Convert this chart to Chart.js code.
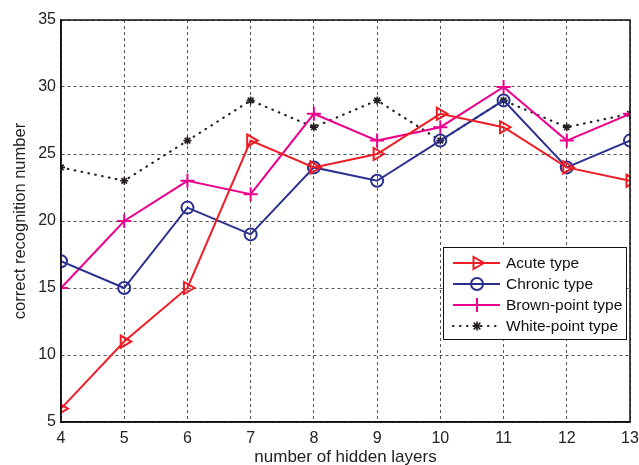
<!DOCTYPE html>
<html>
<head>
<meta charset="utf-8">
<script src="https://cdn.jsdelivr.net/npm/chart.js@4.4.0/dist/chart.umd.min.js"></script>
<style>
  html, body { margin: 0; padding: 0; background: #fff; }
  #wrap { width: 639px; height: 465px; }
</style>
</head>
<body>
<div id="wrap"><canvas id="chart" width="639" height="465"></canvas></div>
<script>
// hidden layer counts on the x axis
const hiddenLayers = [4, 5, 6, 7, 8, 9, 10, 11, 12, 13];

// correct recognition number per type
const acuteType = [6, 11, 15, 26, 24, 25, 28, 27, 24, 23];
const chronicType = [17, 15, 21, 19, 24, 23, 26, 29, 24, 26];
const brownPointType = [15, 20, 23, 22, 28, 26, 27, 30, 26, 28];
const whitePointType = [24, 23, 26, 29, 27, 29, 26, 29, 27, 28];

const seriesLabels = ['Acute type', 'Chronic type', 'Brown-point type', 'White-point type'];
const yTicks = [5, 10, 15, 20, 25, 30, 35];

const FONT = "'Liberation Sans', Arial, sans-serif";

function toPoints(values) {
    return values.map((v, i) => ({ x: hiddenLayers[i], y: v }));
}

// box around the plot, MATLAB style
const frameBox = {
    id: 'frameBox',
    afterDatasetsDraw(chart) {
        const { ctx, chartArea: a } = chart;
        ctx.save();
        ctx.strokeStyle = '#111';
        ctx.lineWidth = 1.5;
        ctx.setLineDash([]);
        ctx.strokeRect(a.left, a.top, a.right - a.left, a.bottom - a.top);
        ctx.restore();
    }
};

// legend drawn as a boxed panel inside the plot
const boxLegend = {
    id: 'boxLegend',
    afterDraw(chart) {
        const ctx = chart.ctx;
        const x0 = 443, y0 = 247, w = 183, h = 92;
        ctx.save();
        ctx.fillStyle = '#fff';
        ctx.fillRect(x0, y0, w, h);
        ctx.strokeStyle = '#111';
        ctx.lineWidth = 1;
        ctx.strokeRect(x0 + 0.5, y0 + 0.5, w, h);
        const rows = [263, 284, 305, 326];
        chart.data.datasets.forEach((ds, i) => {
            const y = rows[i];
            ctx.strokeStyle = ds.borderColor;
            ctx.lineWidth = ds.borderWidth;
            ctx.setLineDash(ds.borderDash || []);
            ctx.lineCap = ds.borderCapStyle || 'butt';
            ctx.beginPath();
            ctx.moveTo(453, y);
            ctx.lineTo(500, y);
            ctx.stroke();
            ctx.setLineDash([]);
            ctx.fillStyle = ds.pointBackgroundColor;
            ctx.strokeStyle = ds.borderColor;
            ctx.lineWidth = ds.pointBorderWidth;
            Chart.helpers.drawPoint(ctx, {
                pointStyle: ds.pointStyle,
                rotation: ds.pointRotation || 0,
                radius: ds.pointRadius,
                borderWidth: ds.pointBorderWidth
            }, 477, y);
            ctx.fillStyle = '#111';
            ctx.font = '15.5px ' + FONT;
            ctx.textBaseline = 'middle';
            ctx.textAlign = 'left';
            ctx.fillText(ds.label, 506, y + 1);
        });
        ctx.restore();
    }
};

const ctx = document.getElementById('chart').getContext('2d');
new Chart(ctx, {
    type: 'line',
    data: {
        datasets: [
            {
                label: seriesLabels[0],
                data: toPoints(acuteType),
                borderColor: '#ee1c25',
                borderWidth: 2,
                pointStyle: 'triangle',
                pointRotation: 90,
                pointRadius: 7,
                pointBorderWidth: 2,
                pointBackgroundColor: 'rgba(0,0,0,0)',
                tension: 0
            },
            {
                label: seriesLabels[1],
                data: toPoints(chronicType),
                borderColor: '#2b3090',
                borderWidth: 2,
                pointStyle: 'circle',
                pointRadius: 6,
                pointBorderWidth: 2,
                pointBackgroundColor: 'rgba(0,0,0,0)',
                tension: 0
            },
            {
                label: seriesLabels[2],
                data: toPoints(brownPointType),
                borderColor: '#ec008c',
                borderWidth: 2,
                pointStyle: 'cross',
                pointRadius: 7,
                pointBorderWidth: 2,
                pointBackgroundColor: 'rgba(0,0,0,0)',
                tension: 0
            },
            {
                label: seriesLabels[3],
                data: toPoints(whitePointType),
                borderColor: '#231f20',
                borderWidth: 2.2,
                borderDash: [0.5, 6.5],
                borderCapStyle: 'round',
                pointStyle: 'star',
                pointRadius: 4,
                pointBorderWidth: 1.6,
                pointBackgroundColor: 'rgba(0,0,0,0)',
                tension: 0
            }
        ]
    },
    options: {
        responsive: false,
        animation: false,
        layout: { padding: { top: 20, right: 8, left: 11, bottom: 0 } },
        plugins: {
            legend: { display: false },
            tooltip: { enabled: false }
        },
        scales: {
            x: {
                type: 'linear',
                min: 4,
                max: 13,
                afterFit: (scale) => {
                    scale.height = 43;
                    scale.paddingLeft = 0;
                    scale.paddingRight = 0;
                },
                ticks: {
                    stepSize: 1,
                    padding: 7,
                    color: '#222',
                    font: { family: FONT, size: 16 }
                },
                grid: { color: '#555', lineWidth: 1, drawTicks: false },
                border: { display: true, color: '#111', width: 1.5, dash: [3, 3] },
                title: {
                    display: true,
                    text: 'number of hidden layers',
                    color: '#222',
                    font: { family: FONT, size: 17 },
                    padding: { top: 0, bottom: -3 }
                }
            },
            y: {
                min: 5,
                max: 35,
                afterFit: (scale) => { scale.width = 50; },
                afterBuildTicks: (scale) => {
                    scale.ticks = yTicks.map(v => ({ value: v }));
                },
                ticks: {
                    padding: 5,
                    color: '#222',
                    font: { family: FONT, size: 16 }
                },
                grid: { color: '#555', lineWidth: 1, drawTicks: false },
                border: { display: true, color: '#111', width: 1.5, dash: [3, 3] },
                title: {
                    display: true,
                    text: 'correct recognition number',
                    color: '#222',
                    font: { family: FONT, size: 16.5 },
                    padding: { top: 0, bottom: 0 }
                }
            }
        }
    },
    plugins: [frameBox, boxLegend]
});
</script>
</body>
</html>
